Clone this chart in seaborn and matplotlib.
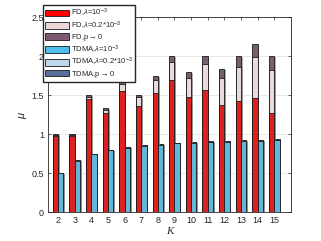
import matplotlib
matplotlib.use("Agg")
import matplotlib.pyplot as plt
import matplotlib.patheffects as pe
from matplotlib.patches import Patch
import numpy as np
import pandas as pd
import seaborn as sns

# values (cumulative stack heights)
K = [2, 3, 4, 5, 6, 7, 8, 9, 10, 11, 12, 13, 14, 15]
fd_lam1 = [0.98, 0.97, 1.45, 1.27, 1.55, 1.36, 1.53, 1.69, 1.47, 1.56, 1.37, 1.42, 1.46, 1.27]
fd_lam02 = [0.99, 0.99, 1.48, 1.31, 1.64, 1.47, 1.70, 1.93, 1.72, 1.90, 1.72, 1.86, 1.99, 1.82]
fd_p0 = [1.00, 1.00, 1.50, 1.34, 1.67, 1.50, 1.74, 2.00, 1.80, 2.00, 1.83, 2.00, 2.16, 2.00]
tdma_lam1 = [0.495, 0.66, 0.745, 0.795, 0.825, 0.85, 0.865, 0.88, 0.89, 0.898, 0.905, 0.91, 0.915, 0.918]
tdma_lam02 = [0.498, 0.664, 0.748, 0.798, 0.83, 0.854, 0.87, 0.885, 0.896, 0.905, 0.912, 0.918, 0.924, 0.927]
tdma_p0 = [0.50, 0.667, 0.75, 0.80, 0.833, 0.857, 0.875, 0.889, 0.90, 0.909, 0.917, 0.923, 0.929, 0.933]

labels = [r"FD,$\lambda$=10$^{-3}$", r"FD,$\lambda$=0.2*10$^{-3}$", r"FD,p$\rightarrow$0",
          r"TDMA,$\lambda$=10$^{-3}$", r"TDMA,$\lambda$=0.2*10$^{-3}$", r"TDMA,p$\rightarrow$0"]
fd_colors = ["#ff0000", "#ecd6d6", "#7d5a73"]
tdma_colors = ["#4dbeee", "#bdd7ee", "#5b6f9b"]

sns.set_style("ticks")
plt.rcParams["font.family"] = ["Liberation Sans", "DejaVu Sans"]
plt.rcParams["mathtext.fontset"] = "custom"
plt.rcParams["mathtext.rm"] = "Liberation Sans"
plt.rcParams["mathtext.it"] = "Liberation Sans:italic"

fig = plt.figure(figsize=(3.21, 2.41), dpi=100)
ax = fig.add_axes([0.15, 0.12, 0.756, 0.809])

# draw tallest layer first so lower layers sit on top
layers = [(fd_p0, tdma_p0, 2), (fd_lam02, tdma_lam02, 1), (fd_lam1, tdma_lam1, 0)]
for fd_vals, tdma_vals, i in layers:
    df = pd.DataFrame({
        "K": K + K,
        "mu": fd_vals + tdma_vals,
        "scheme": ["FD"] * len(K) + ["TDMA"] * len(K),
    })
    sns.barplot(data=df, x="K", y="mu", hue="scheme",
                palette=[fd_colors[i], tdma_colors[i]], width=0.64,
                edgecolor="#1a1a1a", linewidth=0.6, legend=False, ax=ax)

for p in ax.patches:
    p.set_path_effects([pe.SimplePatchShadow(offset=(1.2, -0.8), shadow_rgbFace="#909090", alpha=0.7),
                        pe.Normal()])

ax.set_ylim(0, 2.5)
ax.set_xlim(-0.6, len(K) - 1 + 1.0)
ax.set_yticks([0, 0.5, 1, 1.5, 2, 2.5])
ax.set_yticklabels(["0", "0.5", "1", "1.5", "2", "2.5"])
ax.yaxis.grid(True, color="#e3e3e3", linewidth=0.6)
ax.set_axisbelow(True)
ax.tick_params(direction="in", length=2.5, width=0.5, labelsize=6.5, colors="#262626",
               top=True, right=True, pad=3)
for s in ax.spines.values():
    s.set_linewidth(0.6)
    s.set_color("#262626")
ax.set_xlabel("K", fontfamily="Liberation Serif", fontstyle="italic", fontsize=8, labelpad=1)
ax.set_ylabel(r"$\mu$", fontsize=8, labelpad=2)

handles = [Patch(facecolor=c, edgecolor="#1a1a1a", linewidth=0.6) for c in fd_colors + tdma_colors]
fig.legend(handles, labels, loc="upper left", bbox_to_anchor=(43 / 321, 1 - 5 / 241),
           fontsize=5.5, frameon=True, fancybox=False, edgecolor="#262626", framealpha=1,
           handlelength=3.1, handleheight=1.0, labelspacing=0.05, borderpad=0.25,
           handletextpad=0.3, borderaxespad=0)

fig.savefig("out.png", dpi=100)
